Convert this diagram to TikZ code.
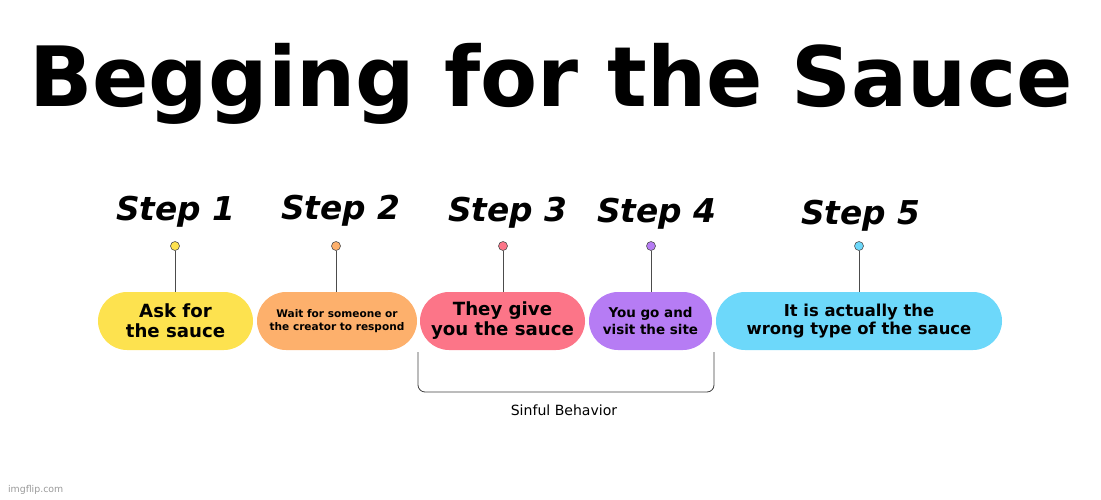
\documentclass[tikz,border=0pt]{standalone}
\usepackage{fontspec}
\setmainfont{DejaVu Sans}
\usepackage{tikz}
\usetikzlibrary{positioning}
\definecolor{cyel}{HTML}{FDE24F}
\definecolor{cora}{HTML}{FDB06C}
\definecolor{cpink}{HTML}{FC7588}
\definecolor{cpur}{HTML}{B67CF4}
\definecolor{ccyan}{HTML}{6DD8FA}
\tikzset{pill/.style={fill=#1, rounded corners=0.87cm, minimum height=1.74cm, align=center, inner sep=0pt, font=\bfseries\fontsize{15.5}{17}\selectfont},
  dot/.style={draw=black!70, fill=#1, circle, inner sep=0pt, minimum size=0.27cm, line width=0.5pt},
  steplbl/.style={font=\bfseries\itshape\fontsize{28}{28}\selectfont}}

\begin{document}
\begin{tikzpicture}[x=0.03cm, y=-0.03cm]
	\useasboundingbox (0,0) rectangle (1101,499);
	\node[font=\bfseries\fontsize{71}{71}\selectfont] (title) at (551,84) {Begging for the Sauce};
	
	\node[pill=cyel, minimum width=4.65cm] (P1) at (175.5,321) {Ask for\\the sauce};
	\node[pill=cora, minimum width=4.8cm, font=\bfseries\fontsize{9}{11}\selectfont] (P2) at (337,321) {Wait for someone or\\the creator to respond};
	\node[pill=cpink, minimum width=4.95cm] (P3) at (502.5,321) {They give\\you the sauce};
	\node[pill=cpur, minimum width=3.69cm, font=\bfseries\fontsize{11.5}{14}\selectfont] (P4) at (650.5,321) {You go and\\visit the site};
	\node[pill=ccyan, minimum width=8.58cm, font=\bfseries\fontsize{14}{16}\selectfont] (P5) at (859,321) {It is actually the\\wrong type of the sauce};
	
	\node[dot=cyel] (D1) at (175,246) {};
	\node[dot=cora] (D2) at (336,246) {};
	\node[dot=cpink] (D3) at (503,246) {};
	\node[dot=cpur] (D4) at (651,246) {};
	\node[dot=ccyan] (D5) at (859,246) {};
	\foreach \i in {1,...,5}
		\draw[black!70, line width=0.6pt] (D\i) -- (P\i.north -| D\i);
	
	\node[steplbl] (S1) at (176,212) {Step 1};
	\node[steplbl] (S2) at (341,211) {Step 2};
	\node[steplbl] (S3) at (508,213) {Step 3};
	\node[steplbl] (S4) at (657,214) {Step 4};
	\node[steplbl] (S5) at (861,216) {Step 5};
	
	\coordinate (bl) at (418,352);
	\coordinate (br) at (714,352);
	\draw[black!75, line width=0.7pt, rounded corners=6pt] (bl) -- (418,392) -- (714,392) -- (br);
	\node[font=\fontsize{12}{12}\selectfont] (sinful) at (564,410) {Sinful Behavior};
	\node[font=\fontsize{8}{8}\selectfont, text=black!40, anchor=west] (wm) at (4,490) {imgflip.com};
\end{tikzpicture}
\end{document}
